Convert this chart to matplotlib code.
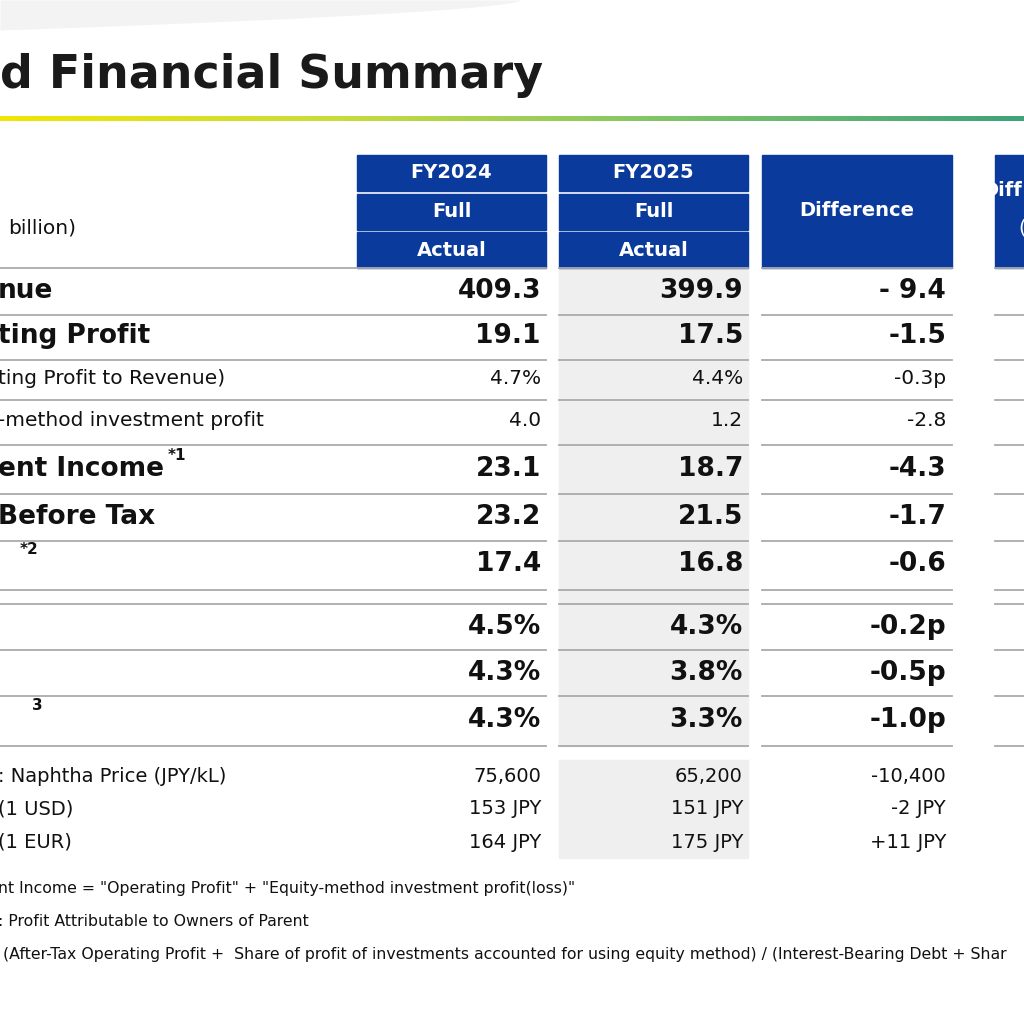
import matplotlib
matplotlib.use("Agg")
import matplotlib.pyplot as plt
from matplotlib.patches import Rectangle
from matplotlib.colors import LinearSegmentedColormap
import numpy as np

title = "d Financial Summary"
col_heads = [["FY2024", "Full", "Actual"], ["FY2025", "Full", "Actual"]]
diff_head = "Difference"
unit_label = "billion)"
labels = ["nue", "ting Profit", "ting Profit to Revenue)", "-method investment profit",
          "ent Income", "Before Tax", "", "", "", ""]
label_sup = ["", "", "", "", "*1", "", "*2", "", "", "3"]
fy2024 = ["409.3", "19.1", "4.7%", "4.0", "23.1", "23.2", "17.4", "4.5%", "4.3%", "4.3%"]
fy2025 = ["399.9", "17.5", "4.4%", "1.2", "18.7", "21.5", "16.8", "4.3%", "3.8%", "3.3%"]
diff = ["- 9.4", "-1.5", "-0.3p", "-2.8", "-4.3", "-1.7", "-0.6", "-0.2p", "-0.5p", "-1.0p"]
bold_row = [True, True, False, False, True, True, True, True, True, True]
row_y = [291, 336, 379, 421, 469, 517, 564, 627, 673, 720]

ext_labels = [": Naphtha Price (JPY/kL)", "(1 USD)", "(1 EUR)"]
ext_2024 = ["75,600", "153 JPY", "164 JPY"]
ext_2025 = ["65,200", "151 JPY", "175 JPY"]
ext_diff = ["-10,400", "-2 JPY", "+11 JPY"]
ext_y = [776, 809, 842]
footnotes = ['nt Income = "Operating Profit" + "Equity-method investment profit(loss)"',
             ': Profit Attributable to Owners of Parent',
             ' (After-Tax Operating Profit +  Share of profit of investments accounted for using equity method) / (Interest-Bearing Debt + Shar']
foot_y = [888, 921, 955]

fig = plt.figure(figsize=(10.24, 10.24), dpi=100)
ax = fig.add_axes([0, 0, 1, 1])
ax.set_xlim(0, 1024); ax.set_ylim(1024, 0); ax.axis("off")
F = "DejaVu Sans"
blue = "#0a3a9c"
ink = "#111111"

# faint swoosh at top
t = np.linspace(0, 520, 200)
ax.fill_between(t, 0, 30 * (1 - t / 520) ** 0.6, color="#f3f3f3", lw=0, zorder=0)
ax.text(0, 75, title, fontsize=33, fontweight="bold", family=F, va="center", color="#1a1a1a")
grad = np.linspace(0, 1, 256).reshape(1, -1)
cm = LinearSegmentedColormap.from_list("g", ["#f2e600", "#c8dc3c", "#7cc36a", "#3fa27a"])
ax.imshow(grad, cmap=cm, extent=[0, 1024, 121, 116], aspect="auto")

cols = [(357, 546), (559, 748)]
for (x0, x1), heads in zip(cols, col_heads):
    for i, h in enumerate(heads):
        y0 = 155 + i * 38.5
        ax.add_patch(Rectangle((x0, y0), x1 - x0, 36, color=blue))
        ax.text((x0 + x1) / 2, y0 + 18, h, color="white", fontsize=14, fontweight="bold",
                ha="center", va="center", family=F)
ax.add_patch(Rectangle((762, 155), 190, 113, color=blue))
ax.text(857, 210, diff_head, color="white", fontsize=14, fontweight="bold", ha="center", va="center", family=F)
ax.add_patch(Rectangle((995, 155), 40, 113, color=blue))
ax.text(982, 190, "Diff", color="white", fontsize=14, fontweight="bold", ha="left", va="center", family=F)
ax.text(1018, 228, "(", color="white", fontsize=14, ha="left", va="center", family=F)
ax.text(8, 228, unit_label, fontsize=14.5, va="center", family=F, color=ink)

ax.add_patch(Rectangle((559, 268), 189, 478, color="#efefef", zorder=0))
ax.add_patch(Rectangle((559, 760), 189, 98, color="#efefef", zorder=0))

segs = [(0, 546), (559, 748), (762, 952), (995, 1024)]
for y in [268, 315, 360, 400, 445, 494, 541, 590, 604, 650, 696, 746]:
    for a, b in segs:
        ax.plot([a, b], [y, y], color="#aaaaaa", lw=1.3)

for i, y in enumerate(row_y):
    b = bold_row[i]
    fs = 19 if b else 14.5
    fw = "bold" if b else "normal"
    if labels[i]:
        ax.text(-2, y, labels[i], fontsize=fs, fontweight=fw, va="center", family=F, color=ink)
    if label_sup[i]:
        xs = {4: 168, 6: 20, 9: 32}[i]
        ax.text(xs, y - 14, label_sup[i], fontsize=11, fontweight="bold", va="center", family=F, color=ink)
    for xr, v in zip([541, 743, 946], [fy2024[i], fy2025[i], diff[i]]):
        ax.text(xr, y, v, fontsize=fs, fontweight=fw, ha="right", va="center", family=F, color=ink)

for i, y in enumerate(ext_y):
    ax.text(-2, y, ext_labels[i], fontsize=14, va="center", family=F, color=ink)
    for xr, v in zip([541, 743, 946], [ext_2024[i], ext_2025[i], ext_diff[i]]):
        ax.text(xr, y, v, fontsize=14, ha="right", va="center", family=F, color=ink)

for y, s in zip(foot_y, footnotes):
    ax.text(-2, y, s, fontsize=11.3, va="center", family=F, color=ink)

fig.savefig("out.png", dpi=100)
